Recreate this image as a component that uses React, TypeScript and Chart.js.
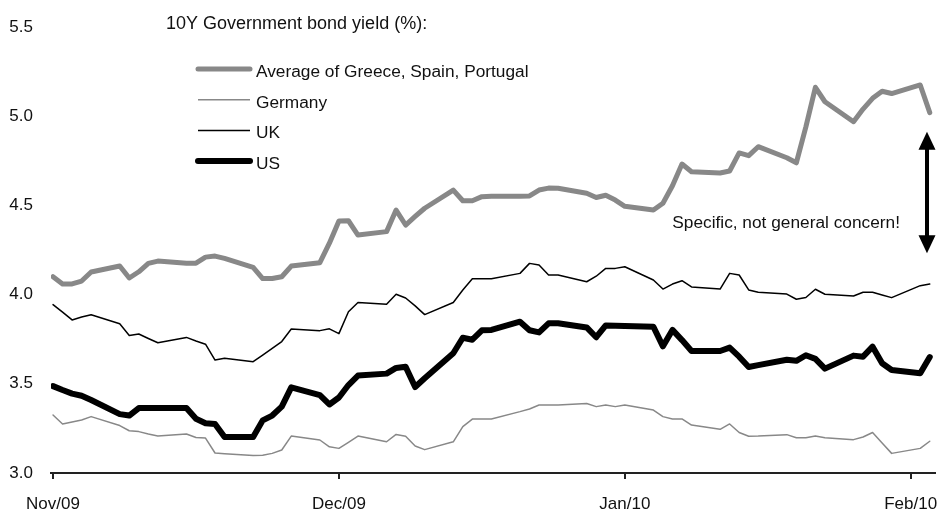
import React, { useEffect, useRef } from "react";
import { Chart, registerables } from "chart.js";

Chart.register(...registerables);

// Calendar day index (1 = 2 Nov 2009, business days only)
const days = [
  1, 2, 3, 4, 5,
  8, 9, 10, 11, 12,
  15, 16, 17, 18, 19,
  22, 23, 24, 25, 26,
  29, 30, 31, 32, 33,
  36, 37, 38, 39, 40,
  43, 44, 45, 46, 47,
  50, 51, 52, 53, 54,
  57, 58, 59, 60, 61,
  64, 65, 66, 67, 68,
  71, 72, 73, 74, 75,
  78, 79, 80, 81, 82,
  85, 86, 87, 88, 89,
  92, 93,
];

const avgValues = [
  4.1, 4.06, 4.06, 4.076, 4.127,
  4.16, 4.093, 4.128, 4.175, 4.188,
  4.176, 4.176, 4.21, 4.216, 4.203,
  4.153, 4.09, 4.09, 4.1, 4.16,
  4.179, 4.288, 4.413, 4.414, 4.334,
  4.353, 4.474, 4.39, 4.438, 4.484,
  4.586, 4.526, 4.526, 4.549, 4.551,
  4.551, 4.553, 4.586, 4.597, 4.596,
  4.568, 4.544, 4.557, 4.53, 4.495,
  4.474, 4.512, 4.61, 4.732, 4.689,
  4.682, 4.693, 4.794, 4.779, 4.829,
  4.767, 4.739, 4.94, 5.162, 5.081,
  4.969, 5.04, 5.1, 5.14, 5.127,
  5.175, 5.02,
];

const germanyValues = [
  3.325, 3.275, 3.286, 3.297, 3.316,
  3.266, 3.237, 3.232, 3.219, 3.208,
  3.219, 3.199, 3.196, 3.112, 3.108,
  3.098, 3.1, 3.11, 3.129, 3.207,
  3.185, 3.147, 3.138, 3.172, 3.207,
  3.175, 3.216, 3.206, 3.151, 3.131,
  3.175, 3.26, 3.302, 3.302, 3.303,
  3.344, 3.359, 3.381, 3.381, 3.381,
  3.39, 3.372, 3.381, 3.372, 3.381,
  3.353, 3.316, 3.303, 3.303, 3.269,
  3.245, 3.275, 3.227, 3.206, 3.207,
  3.215, 3.198, 3.198, 3.207, 3.198,
  3.187, 3.202, 3.227, 3.168, 3.11,
  3.138, 3.178,
];

const ukValues = [
  3.944, 3.902, 3.858, 3.874, 3.887,
  3.837, 3.771, 3.779, 3.754, 3.73,
  3.76, 3.74, 3.722, 3.633, 3.643,
  3.624, 3.661, 3.699, 3.737, 3.807,
  3.798, 3.808, 3.781, 3.904, 3.956,
  3.946, 4.002, 3.981, 3.937, 3.888,
  3.956, 4.026, 4.089, 4.089, 4.089,
  4.119, 4.175, 4.166, 4.11, 4.11,
  4.072, 4.103, 4.147, 4.147, 4.156,
  4.082, 4.031, 4.059, 4.078, 4.043,
  4.031, 4.119, 4.11, 4.026, 4.013,
  4.003, 3.974, 3.984, 4.03, 4.002,
  3.992, 4.013, 4.013, 3.998, 3.983,
  4.05, 4.059,
];

const usValues = [
  3.487, 3.465, 3.445, 3.433, 3.409,
  3.33, 3.322, 3.364, 3.364, 3.364,
  3.364, 3.304, 3.279, 3.275, 3.202,
  3.202, 3.295, 3.322, 3.372, 3.48,
  3.437, 3.384, 3.423, 3.493, 3.546,
  3.557, 3.589, 3.596, 3.482, 3.531,
  3.671, 3.758, 3.747, 3.8, 3.802,
  3.848, 3.8, 3.788, 3.839, 3.839,
  3.816, 3.761, 3.827, 3.825, 3.824,
  3.82, 3.71, 3.802, 3.745, 3.684,
  3.684, 3.703, 3.652, 3.594, 3.605,
  3.635, 3.629, 3.66, 3.64, 3.585,
  3.658, 3.652, 3.708, 3.615, 3.577,
  3.559, 3.65,
];

const seriesNames = ["Average of Greece, Spain, Portugal", "Germany", "UK", "US"];
const monthTickDays = [1, 31, 61, 91];
const monthTickLabels = ["Nov/09", "Dec/09", "Jan/10", "Feb/10"];
const yMin = 3.0;
const yMax = 5.5;
const yStep = 0.5;
const chartTitle = "10Y Government bond yield (%):";
const noteText = "Specific, not general concern!";
const noteDay = 89.87;
const noteValue = 4.373;
const arrowDay = 92.71;
const arrowTopValue = 4.913;
const arrowBottomValue = 4.232;

const FONT = "'Liberation Sans', Arial, sans-serif";
const TEXT = "#111111";
const GRAY = "#888888";

const overlay = {
  id: "overlay",
  afterDatasetsDraw(chart: any) {
    const ctx = chart.ctx as CanvasRenderingContext2D;
    const xs = chart.scales.x;
    const ys = chart.scales.y;
    ctx.save();
    ctx.fillStyle = TEXT;
    ctx.textBaseline = "alphabetic";
    ctx.textAlign = "left";
    ctx.font = `18px ${FONT}`;
    ctx.fillText(chartTitle, 166, 29);

    ctx.font = `17.3px ${FONT}`;
    chart.data.datasets.forEach((ds: any, i: number) => {
      const ly = 69 + i * 30.7;
      ctx.beginPath();
      ctx.lineCap = ds.borderWidth > 3 ? "round" : "butt";
      ctx.strokeStyle = ds.borderColor;
      ctx.lineWidth = ds.borderWidth;
      ctx.moveTo(198, ly);
      ctx.lineTo(250, ly);
      ctx.stroke();
      ctx.fillStyle = TEXT;
      ctx.fillText(ds.label, 256, ly + 8);
    });

    // annotation
    ctx.textAlign = "right";
    ctx.fillText(noteText, xs.getPixelForValue(noteDay), ys.getPixelForValue(noteValue));

    const ax = xs.getPixelForValue(arrowDay);
    const yt = ys.getPixelForValue(arrowTopValue);
    const yb = ys.getPixelForValue(arrowBottomValue);
    const headH = 18;
    const headW = 8.5;
    ctx.strokeStyle = "#000";
    ctx.fillStyle = "#000";
    ctx.lineWidth = 4;
    ctx.lineCap = "butt";
    ctx.beginPath();
    ctx.moveTo(ax, yt + headH - 2);
    ctx.lineTo(ax, yb - headH + 2);
    ctx.stroke();
    ctx.beginPath();
    ctx.moveTo(ax, yt);
    ctx.lineTo(ax - headW, yt + headH);
    ctx.lineTo(ax + headW, yt + headH);
    ctx.closePath();
    ctx.fill();
    ctx.beginPath();
    ctx.moveTo(ax, yb);
    ctx.lineTo(ax - headW, yb - headH);
    ctx.lineTo(ax + headW, yb - headH);
    ctx.closePath();
    ctx.fill();
    ctx.restore();
  },
};

export default function App() {
  const ref = useRef<HTMLCanvasElement>(null);

  useEffect(() => {
    const canvas = ref.current;
    if (!canvas) return;
    const toPoints = (vals: number[]) => days.map((d, i) => ({ x: d, y: vals[i] }));
    const chart = new Chart(canvas, {
      type: "line",
      data: {
        datasets: [
          { label: seriesNames[0], data: toPoints(avgValues), borderColor: GRAY, borderWidth: 5 },
          { label: seriesNames[1], data: toPoints(germanyValues), borderColor: GRAY, borderWidth: 1.5 },
          { label: seriesNames[2], data: toPoints(ukValues), borderColor: "#000000", borderWidth: 1.5 },
          { label: seriesNames[3], data: toPoints(usValues), borderColor: "#000000", borderWidth: 6 },
        ],
      },
      options: {
        responsive: false,
        animation: false,
        layout: { padding: { top: 27, right: 5, left: 0, bottom: 0 } },
        plugins: { legend: { display: false }, tooltip: { enabled: false }, title: { display: false } },
        elements: {
          point: { radius: 0 },
          line: { tension: 0, borderJoinStyle: "round", borderCapStyle: "round", fill: false },
        },
        scales: {
          x: {
            type: "linear",
            min: 0.787,
            max: 93.55,
            afterBuildTicks: (s: any) => {
              s.ticks = monthTickDays.map((v) => ({ value: v }));
            },
            afterFit: (s: any) => {
              s.height = 40;
              s.paddingLeft = 0;
              s.paddingRight = 0;
            },
            ticks: {
              autoSkip: false,
              maxRotation: 0,
              padding: 15,
              color: TEXT,
              font: { family: FONT, size: 17 },
              callback: (_v: any, i: number) => monthTickLabels[i],
            },
            grid: {
              display: true,
              drawOnChartArea: false,
              drawTicks: true,
              tickLength: 6,
              color: "#222222",
              lineWidth: 2,
            },
            border: { display: true, color: "#222222", width: 2 },
          },
          y: {
            min: yMin,
            max: yMax,
            afterFit: (s: any) => {
              s.width = 51;
              s.paddingTop = 0;
              s.paddingBottom = 0;
            },
            ticks: {
              stepSize: yStep,
              padding: 18,
              color: TEXT,
              font: { family: FONT, size: 17 },
              callback: (v: any) => Number(v).toFixed(1),
            },
            grid: { display: false, drawTicks: false },
            border: { display: false },
          },
        },
      },
      plugins: [overlay],
    } as any);
    return () => chart.destroy();
  }, []);

  return (
    <div style={{ position: "fixed", left: 0, top: 0, width: 940, height: 513, background: "#ffffff" }}>
      <canvas ref={ref} width={940} height={513} style={{ width: 940, height: 513, display: "block" }} />
    </div>
  );
}
